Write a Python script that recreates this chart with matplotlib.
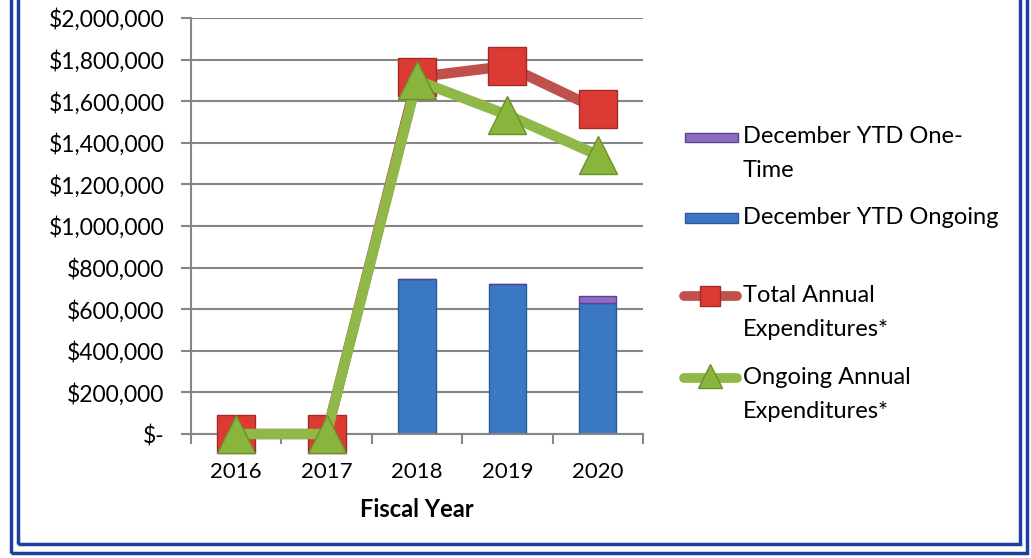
import matplotlib.pyplot as plt
import numpy as np
from matplotlib.patches import Rectangle
from matplotlib.lines import Line2D
from matplotlib.ticker import FuncFormatter

plt.rcParams['font.family'] = ['Lato', 'DejaVu Sans']

years = ['2016', '2017', '2018', '2019', '2020']
ytd_ongoing = [0, 0, 745000, 721000, 630000]
ytd_one_time = [0, 0, 0, 0, 33000]
total_annual = [0, 0, 1716000, 1769000, 1562000]
ongoing_annual = [0, 0, 1700000, 1534000, 1341000]

W, H = 1031, 558
fig = plt.figure(figsize=(W / 100, H / 100), dpi=100)
ax = fig.add_axes([191 / W, 1 - 434 / H, 452 / W, 416 / H])
x = np.arange(len(years))

blue, blue_e = '#3b78c4', '#2a5a99'
purple, purple_e = '#8d6cc4', '#5e4190'
red_line, red_face, red_e = '#c0504d', '#dc3b34', '#a52a26'
green_line, green_face, green_e = '#8fb849', '#8ab53d', '#6c8f2a'

ax.bar(x, ytd_ongoing, width=0.41, color=blue, edgecolor=blue_e, linewidth=1, zorder=2)
ax.bar(x, ytd_one_time, width=0.41, bottom=ytd_ongoing, color=purple, edgecolor=purple_e,
       linewidth=1, zorder=2)
ax.plot(x, total_annual, color=red_line, lw=7.5, marker='s', ms=27, mfc=red_face, mec=red_e,
        mew=1, solid_capstyle='round', zorder=3, clip_on=False)
ax.plot(x, ongoing_annual, color=green_line, lw=7.5, marker='^', ms=27, mfc=green_face, mec=green_e,
        mew=1, solid_capstyle='round', zorder=4, clip_on=False)

ax.set_xlim(-0.5, 4.5)
ax.set_ylim(0, 2000000)
ax.set_yticks(np.arange(0, 2000001, 200000))
ax.yaxis.set_major_formatter(FuncFormatter(lambda v, p: '$-' if v == 0 else '${:,.0f}'.format(v)))
ax.set_xticks(x)
ax.set_xticklabels(years)
ax.set_xticks(np.arange(-0.5, 5, 1), minor=True)
ax.tick_params(axis='x', which='major', length=0, pad=20, labelsize=16)
ax.tick_params(axis='x', which='minor', length=7, color='#868686', width=1.5, direction='out')
ax.tick_params(axis='y', length=7, color='#868686', width=1.5, labelsize=16.5, pad=12)
ax.grid(axis='y', color='#868686', lw=1.5, zorder=0)
ax.set_axisbelow(True)
for s in ['top', 'right']:
    ax.spines[s].set_visible(False)
for s in ['left', 'bottom']:
    ax.spines[s].set_color('#868686')
    ax.spines[s].set_linewidth(1.5)
ax.set_xlabel('Fiscal Year', fontsize=17, fontweight='bold', labelpad=12)

# legend drawn by hand so the key sits next to the first text line
def fx(px):
    return px / W

def fy(py):
    return 1 - py / H

fig.add_artist(Rectangle((fx(685), fy(142)), fx(53), 9 / H, transform=fig.transFigure,
                         facecolor=purple, edgecolor=purple_e))
fig.add_artist(Rectangle((fx(685), fy(223)), fx(53), 10 / H, transform=fig.transFigure,
                         facecolor=blue, edgecolor=blue_e))
fig.add_artist(Line2D([fx(684), fx(737)], [fy(296)] * 2, transform=fig.transFigure, color=red_line,
                      lw=7, solid_capstyle='round'))
fig.add_artist(Line2D([fx(710)], [fy(296)], transform=fig.transFigure, marker='s', ms=15,
                      mfc=red_face, mec=red_e))
fig.add_artist(Line2D([fx(684), fx(737)], [fy(378)] * 2, transform=fig.transFigure, color=green_line,
                      lw=7, solid_capstyle='round'))
fig.add_artist(Line2D([fx(710)], [fy(376)], transform=fig.transFigure, marker='^', ms=17,
                      mfc=green_face, mec=green_e))
labels = ['December YTD One-\nTime', 'December YTD Ongoing', 'Total Annual\nExpenditures*',
          'Ongoing Annual\nExpenditures*']
label_y = [137, 218, 296, 378]
for lab, ly in zip(labels, label_y):
    fig.text(fx(743), fy(ly - 11), lab, fontsize=17, va='top', ha='left', linespacing=1.75)

# double blue frame
fig.add_artist(Rectangle((fx(11), fy(553)), fx(1016), 600 / H, transform=fig.transFigure,
                         fill=False, edgecolor='#1f3f9e', lw=2.5))
fig.add_artist(Rectangle((fx(18), fy(544)), fx(1002), 600 / H, transform=fig.transFigure,
                         fill=False, edgecolor='#1f3f9e', lw=2.5))

fig.savefig('out.png', dpi=100)
